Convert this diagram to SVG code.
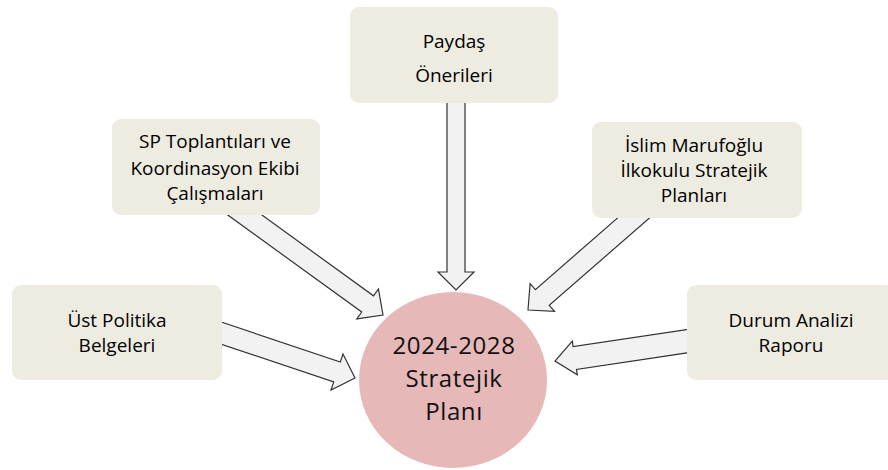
<svg xmlns="http://www.w3.org/2000/svg" width="888" height="470" viewBox="0 0 888 470">
<style>
.box{fill:#EEECE1;}
.lbl{font-family:"Open Sans","Liberation Sans",sans-serif;font-size:19px;fill:#000;text-anchor:middle;}
.big{font-family:"Open Sans","Liberation Sans",sans-serif;font-size:24px;letter-spacing:0.6px;fill:#111;text-anchor:middle;}
.arr{fill:#F2F2F2;stroke:#333;stroke-width:1.2;stroke-linejoin:miter;}
</style>
<rect width="888" height="470" fill="#fff"/>
<g id="center">
<ellipse cx="453" cy="380" rx="94" ry="88" fill="#E6B9B8"/>
<text class="big" x="454" y="354">2024-2028</text>
<text class="big" x="454" y="387">Stratejik</text>
<text class="big" x="454" y="420">Planı</text>
</g>
<g id="connectors">
<polygon class="arr" points="447,95 447,272 438,272 456,290 474,272 465,272 465,95"/>
<polygon class="arr" points="230.0,191.9 373.5,295.8 378.4,288.9 383,315 356.8,318.9 361.7,312.0 218.2,208.1"/>
<polygon class="arr" points="647.2,192.1 535.4,289.6 530.1,283.6 528,310 554.5,311.4 549.2,305.4 661.0,207.9"/>
<polygon class="arr" points="203.3,316.0 340.3,362.0 343.0,354.0 355,378 331.0,390.0 333.7,382.0 196.7,336.0"/>
<polygon class="arr" points="708.3,326.4 573.1,346.6 572.3,341.2 555,361 577.3,374.8 576.5,369.4 711.7,349.2"/>
</g>
<g id="paydas">
<rect class="box" x="350" y="7" width="208" height="96" rx="9"/>
<text class="lbl" x="454" y="48">Paydaş</text>
<text class="lbl" x="454" y="82">Önerileri</text>
</g>
<g id="sp">
<rect class="box" x="112" y="119" width="208" height="96" rx="9"/>
<text class="lbl" x="215" y="148">SP Toplantıları ve</text>
<text class="lbl" x="215" y="175">Koordinasyon Ekibi</text>
<text class="lbl" x="215" y="200">Çalışmaları</text>
</g>
<g id="islim">
<rect class="box" x="592" y="122" width="210" height="96" rx="9"/>
<text class="lbl" x="694" y="152">İslim Marufoğlu</text>
<text class="lbl" x="694" y="177">İlkokulu Stratejik</text>
<text class="lbl" x="694" y="202">Planları</text>
</g>
<g id="ust">
<rect class="box" x="12" y="285" width="210" height="95" rx="9"/>
<text class="lbl" x="117" y="327">Üst Politika</text>
<text class="lbl" x="117" y="352">Belgeleri</text>
</g>
<g id="durum">
<rect class="box" x="687" y="285" width="210" height="95" rx="9"/>
<text class="lbl" x="791" y="327">Durum Analizi</text>
<text class="lbl" x="791" y="352">Raporu</text>
</g>
</svg>
